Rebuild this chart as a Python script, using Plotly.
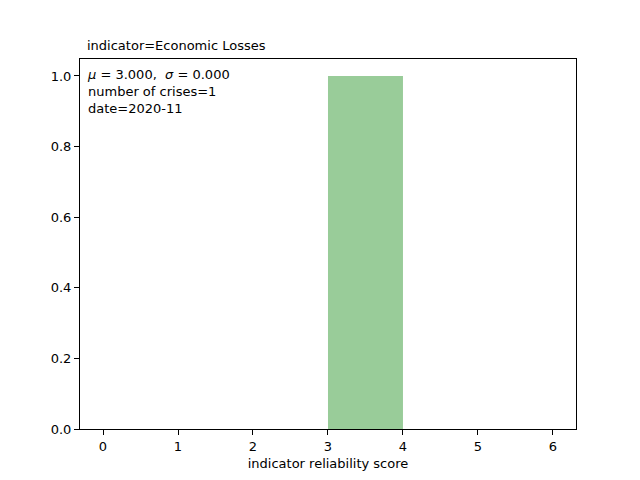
import plotly.graph_objects as go

bin_left = [0, 1, 2, 3, 4, 5]
counts = [0, 0, 0, 1, 0, 0]
mu, sigma, n_crises, date = 3.0, 0.0, 1, "2020-11"

fig = go.Figure(go.Bar(
    x=[b + 0.5 for b in bin_left], y=counts, width=1,
    marker=dict(color="rgba(0,128,0,0.4)", line=dict(width=0)),
))

axis = dict(showline=True, linecolor="black", linewidth=1, mirror=True,
            ticks="outside", ticklen=5, tickcolor="black", showgrid=False,
            zeroline=False, tickfont=dict(size=13, color="black"), automargin=False)
fig.update_xaxes(range=[-0.3067, 6.307], dtick=1, title=dict(
    text="indicator reliability score", font=dict(size=13, color="black"), standoff=6), **axis)
fig.update_yaxes(range=[0, 1.048], dtick=0.2, tickformat=".1f", **axis)

fig.add_annotation(xref="paper", yref="paper", x=0.01, y=0.985, xanchor="left", yanchor="top",
                   align="left", showarrow=False, font=dict(size=13, color="black"),
                   text=f"<i>μ</i> = {mu:.3f},  <i>σ</i> = {sigma:.3f}<br>number of crises={n_crises}<br>date={date}")
fig.add_annotation(xref="paper", yref="paper", x=0.01, y=1.01, xanchor="left", yanchor="bottom",
                   showarrow=False, font=dict(size=13, color="black"),
                   text="indicator=Economic Losses")

fig.update_layout(width=640, height=480, margin=dict(l=72, r=72, t=51, b=59),
                  plot_bgcolor="white", paper_bgcolor="white", showlegend=False,
                  font=dict(family="DejaVu Sans"))
fig.write_html("out.html")
